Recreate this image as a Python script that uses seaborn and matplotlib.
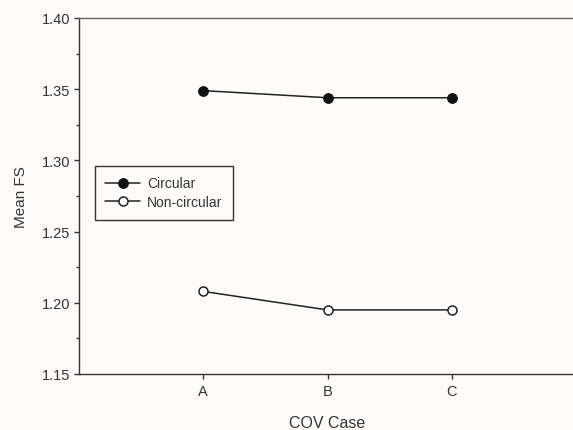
import matplotlib
matplotlib.use("Agg")
import matplotlib.pyplot as plt
import seaborn as sns
import pandas as pd
from matplotlib.ticker import MultipleLocator

cases = ["A", "B", "C"]
circular = [1.349, 1.344, 1.344]
non_circular = [1.208, 1.195, 1.195]

sns.set_style("ticks")
plt.rcParams['font.family'] = ['Liberation Sans', 'DejaVu Sans']

df = pd.DataFrame({
    "pos": [1, 2, 3] * 2,
    "fs": circular + non_circular,
    "series": ["Circular"] * 3 + ["Non-circular"] * 3,
})

fig = plt.figure(figsize=(5.73, 4.31), dpi=100)
fig.patch.set_facecolor("#fdfcfb")
ax = fig.add_axes([79 / 573, 56 / 431, 497 / 573, 356 / 431])
ax.set_facecolor("#fdfcfb")

sns.lineplot(data=df[df.series == "Circular"], x="pos", y="fs", ax=ax,
             color="#222222", lw=1.1, marker="o", markersize=7,
             markerfacecolor="#111111", markeredgecolor="#111111",
             label="Circular")
sns.lineplot(data=df[df.series == "Non-circular"], x="pos", y="fs", ax=ax,
             color="#222222", lw=1.1, marker="o", markersize=6.5,
             markerfacecolor="white", markeredgecolor="#222222",
             markeredgewidth=1.1, label="Non-circular")

ax.set_xlim(0, 4)
ax.set_ylim(1.15, 1.40)
ax.set_xticks([1, 2, 3])
ax.set_xticklabels(cases)
ax.yaxis.set_major_locator(MultipleLocator(0.05))
ax.yaxis.set_minor_locator(MultipleLocator(0.025))
ax.yaxis.set_major_formatter(matplotlib.ticker.FormatStrFormatter("%.2f"))
ax.tick_params(axis="both", which="major", length=3.5, width=1, colors="#333333",
               labelsize=10.5, pad=2.5)
ax.tick_params(axis="x", which="major", pad=4)
ax.tick_params(axis="y", which="minor", length=2.5, width=1, color="#333333")
ax.set_xlabel("COV Case", fontsize=11.5, color="#333333", labelpad=12)
ax.set_ylabel("Mean FS", fontsize=11, color="#333333", labelpad=10)

for s in ["left", "bottom", "top"]:
    ax.spines[s].set_color("#333333")
    ax.spines[s].set_linewidth(1)
ax.spines["top"].set_color("#666666")
ax.spines["right"].set_visible(False)

leg = ax.legend(loc="upper left", bbox_to_anchor=(16 / 497, 1 - 148 / 356),
                borderaxespad=0, frameon=True, fancybox=False,
                edgecolor="black", fontsize=10, handlelength=2.5,
                borderpad=0.75, labelspacing=0.35, handletextpad=0.5)
leg.get_frame().set_linewidth(1)
leg.get_frame().set_facecolor("#fdfcfb")
for t in leg.get_texts():
    t.set_color("#333333")

fig.savefig("out.png", dpi=100, facecolor=fig.get_facecolor())
